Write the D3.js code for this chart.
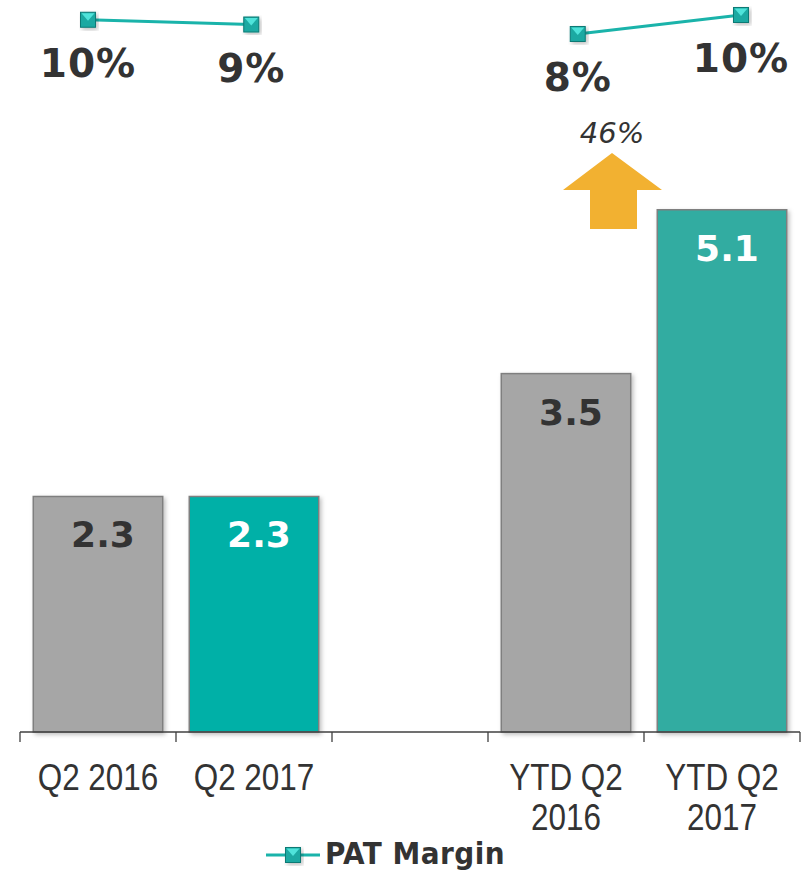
<!DOCTYPE html>
<html>
<head>
<meta charset="utf-8">
<script src="https://cdn.jsdelivr.net/npm/d3@7"></script>
<style>
  html, body { margin: 0; padding: 0; background: #fff; }
  svg { display: block; }
</style>
</head>
<body>
<svg id="chart" width="808" height="872"></svg>
<script>
// categories (the empty one keeps the gap between the two groups)
const categories = ["Q2 2016", "Q2 2017", "", "YTD Q2 2016", "YTD Q2 2017"];
const axisLabels = [["Q2 2016"], ["Q2 2017"], [], ["YTD Q2", "2016"], ["YTD Q2", "2017"]];
// PAT (bars)
const patValues = [2.3, 2.3, null, 3.5, 5.1];
const barColors = ["#a6a6a6", "#00b0a7", null, "#a6a6a6", "#32aca1"];
const labelColors = ["#333333", "#ffffff", null, "#333333", "#ffffff"];
// PAT margin (line), %
const marginValues = [9.9, 9.4, null, 8.4, 10.4];
const growthLabel = "46%";

const svg = d3.select("#chart");
const defs = svg.append("defs");
const shadow = defs.append("filter").attr("id", "shadow")
  .attr("x", "-10%").attr("y", "-10%").attr("width", "130%").attr("height", "130%");
shadow.append("feDropShadow").attr("dx", 2).attr("dy", 2).attr("stdDeviation", 2)
  .attr("flood-color", "#000").attr("flood-opacity", 0.25);

const baseY = 732;
const x = d3.scaleBand().domain(categories).range([20, 800])
  .paddingInner(0.17).paddingOuter(0.085);
const xStep = d3.scaleBand().domain(categories).range([20, 800]);
const y = d3.scaleLinear().domain([0, 6]).range([baseY, baseY - 614.4]);

// line sits on its own axis
const xLine = d3.scalePoint().domain(categories).range([88, 741]);
const yLine = d3.scaleLinear().domain([8, 11]).range([37.8, 9.3]);

// bars
const bars = categories.map((c, i) => ({ c, v: patValues[i], i })).filter(d => d.v != null);
svg.append("g").selectAll("rect").data(bars).enter().append("rect")
  .attr("x", d => x(d.c))
  .attr("y", d => y(d.v))
  .attr("width", x.bandwidth())
  .attr("height", d => baseY - y(d.v))
  .attr("fill", d => barColors[d.i])
  .attr("stroke", "#7f7f7f")
  .attr("stroke-width", 1.5)
  .attr("filter", "url(#shadow)");

svg.append("g").selectAll("text").data(bars).enter().append("text")
  .attr("x", d => x(d.c) + x.bandwidth() / 2 + 5)
  .attr("y", d => y(d.v) + 51)
  .attr("text-anchor", "middle")
  .attr("font-family", "DejaVu Sans")
  .attr("font-weight", "bold")
  .attr("font-size", 36)
  .attr("fill", d => labelColors[d.i])
  .text(d => d.v.toFixed(1));

// axis
const axis = svg.append("g").attr("stroke", "#404040").attr("stroke-width", 1.3);
axis.append("line").attr("x1", 20).attr("x2", 800).attr("y1", baseY).attr("y2", baseY);
const tickXs = categories.map(c => xStep(c)).concat([xStep.range()[1]]);
axis.selectAll(".tick").data(tickXs).enter().append("line")
  .attr("x1", d => d).attr("x2", d => d)
  .attr("y1", baseY).attr("y2", baseY + 10);

// narrow labels: squeeze Liberation Sans horizontally
const lbl = svg.append("g").selectAll("text").data(categories).enter().append("text")
  .attr("transform", c => `translate(${xStep(c) + xStep.bandwidth() / 2},790) scale(0.85,1)`)
  .attr("text-anchor", "middle")
  .attr("font-family", "Liberation Sans")
  .attr("font-size", 37)
  .attr("fill", "#333");
lbl.selectAll("tspan").data((c, i) => axisLabels[i]).enter().append("tspan")
  .attr("x", 0)
  .attr("dy", (d, j) => j === 0 ? 0 : 40)
  .text(d => d);

// margin line
const pts = categories.map((c, i) => ({ c, v: marginValues[i] }));
const line = d3.line().defined(d => d.v != null)
  .x(d => xLine(d.c)).y(d => yLine(d.v));
svg.append("path").datum(pts)
  .attr("d", line)
  .attr("fill", "none")
  .attr("stroke", "#1ab3aa")
  .attr("stroke-width", 3);

function marker(g, cx, cy) {
  const s = 15;
  g.append("rect").attr("x", cx - s / 2).attr("y", cy - s / 2)
    .attr("width", s).attr("height", s)
    .attr("fill", "#1aa9a2").attr("stroke", "#0b7a75").attr("stroke-width", 1)
    .attr("filter", "url(#shadow)");
  g.append("path")
    .attr("d", `M${cx - s / 2 + 1},${cy - s / 2 + 1}L${cx + s / 2 - 1},${cy - s / 2 + 1}L${cx},${cy + 1}Z`)
    .attr("fill", "#4fe3da");
}

const mk = svg.append("g");
pts.filter(d => d.v != null).forEach(d => marker(mk, xLine(d.c), yLine(d.v)));

svg.append("g").selectAll("text").data(pts.filter(d => d.v != null)).enter().append("text")
  .attr("x", d => xLine(d.c))
  .attr("y", d => yLine(d.v) + 57)
  .attr("text-anchor", "middle")
  .attr("font-family", "DejaVu Sans")
  .attr("font-weight", "bold")
  .attr("font-size", 39)
  .attr("letter-spacing", 1)
  .attr("fill", "#333")
  .text(d => Math.round(d.v) + "%");

// growth arrow between the YTD bars
const ax = x("YTD Q2 2016") + x.bandwidth() / 2 + 46;
const aTop = 153;
svg.append("path")
  .attr("d", `M${ax},${aTop}L${ax + 50},${aTop + 37}L${ax + 25},${aTop + 37}L${ax + 25},${aTop + 76}` +
    `L${ax - 22},${aTop + 76}L${ax - 22},${aTop + 37}L${ax - 49},${aTop + 37}Z`)
  .attr("fill", "#f2b131");
svg.append("text")
  .attr("x", ax).attr("y", 143)
  .attr("text-anchor", "middle")
  .attr("font-family", "DejaVu Sans")
  .attr("font-style", "italic")
  .attr("font-size", 29)
  .attr("fill", "#333")
  .text(growthLabel);

// legend
const leg = svg.append("g");
leg.append("line").attr("x1", 266).attr("x2", 320).attr("y1", 855).attr("y2", 855)
  .attr("stroke", "#1ab3aa").attr("stroke-width", 3);
marker(leg, 293, 855);
leg.append("text").attr("x", 325).attr("y", 864)
  .attr("font-family", "DejaVu Sans Condensed")
  .attr("font-weight", "bold")
  .attr("font-size", 31)
  .attr("letter-spacing", 0.5)
  .attr("fill", "#333")
  .text("PAT Margin");
</script>
</body>
</html>
